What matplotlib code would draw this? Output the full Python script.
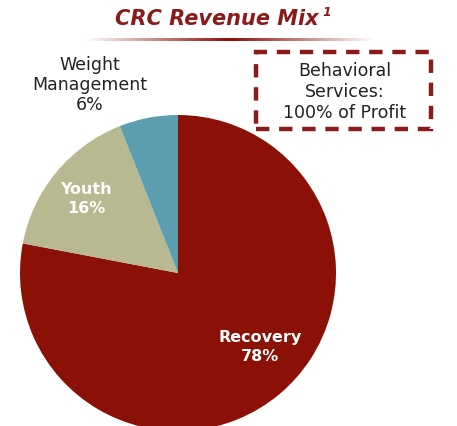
import numpy as np
import matplotlib.pyplot as plt
from matplotlib.colors import LinearSegmentedColormap
from matplotlib.patches import Rectangle

labels = ['Recovery\n78%', 'Youth\n16%', 'Weight\nManagement\n6%']
shares = [78, 16, 6]
colors = ['#8B1005', '#B8B891', '#5A9EAF']
title = 'CRC Revenue Mix'
note = 'Behavioral\nServices:\n100% of Profit'

W, H = 457, 426
fig = plt.figure(figsize=(W / 100, H / 100), dpi=100)
ax = fig.add_axes([0, 0, 1, 1])

# pie, clockwise from 12 o'clock; runs off the bottom edge
ax.pie(shares, colors=colors, startangle=90, counterclock=False,
       center=(178, H - 273), radius=158, frame=True,
       wedgeprops=dict(linewidth=0))
ax.set_xlim(0, W)
ax.set_ylim(0, H)
ax.set_aspect('equal')
ax.axis('off')

font = 'DejaVu Sans'
ax.text(260, H - 347, labels[0], ha='center', va='center', color='white',
        fontsize=11.5, fontweight='bold', family=font, linespacing=1.3)
ax.text(86, H - 199, labels[1], ha='center', va='center', color='white',
        fontsize=11.5, fontweight='bold', family=font, linespacing=1.3)
ax.text(90, H - 85, labels[2], ha='center', va='center', color='#222222',
        fontsize=12.5, family=font, linespacing=1.12)

# title with a fading underline
ax.text(115, H - 19, title, ha='left', va='center', color='#8B1A1A',
        fontsize=15, fontweight='bold', fontstyle='italic', family=font)
ax.text(322, H - 12, '1', ha='left', va='center', color='#8B1A1A',
        fontsize=9, fontweight='bold', fontstyle='italic', family=font)
grad = LinearSegmentedColormap.from_list('fade', ['white', '#8B1005', 'white'])
ax.imshow(np.linspace(0, 1, 256)[None, :], cmap=grad, aspect='auto',
          extent=(85, 375, H - 41, H - 38), zorder=1)

# dashed callout box
ax.add_patch(Rectangle((256, H - 129), 175, 77, fill=False, edgecolor='#8B1A1A',
                       linewidth=3.2, linestyle=(0, (3, 2.2))))
ax.text(345, H - 92, note, ha='center', va='center', color='#222222',
        fontsize=12.5, family=font, linespacing=1.2)

fig.savefig('out.png', dpi=100)
